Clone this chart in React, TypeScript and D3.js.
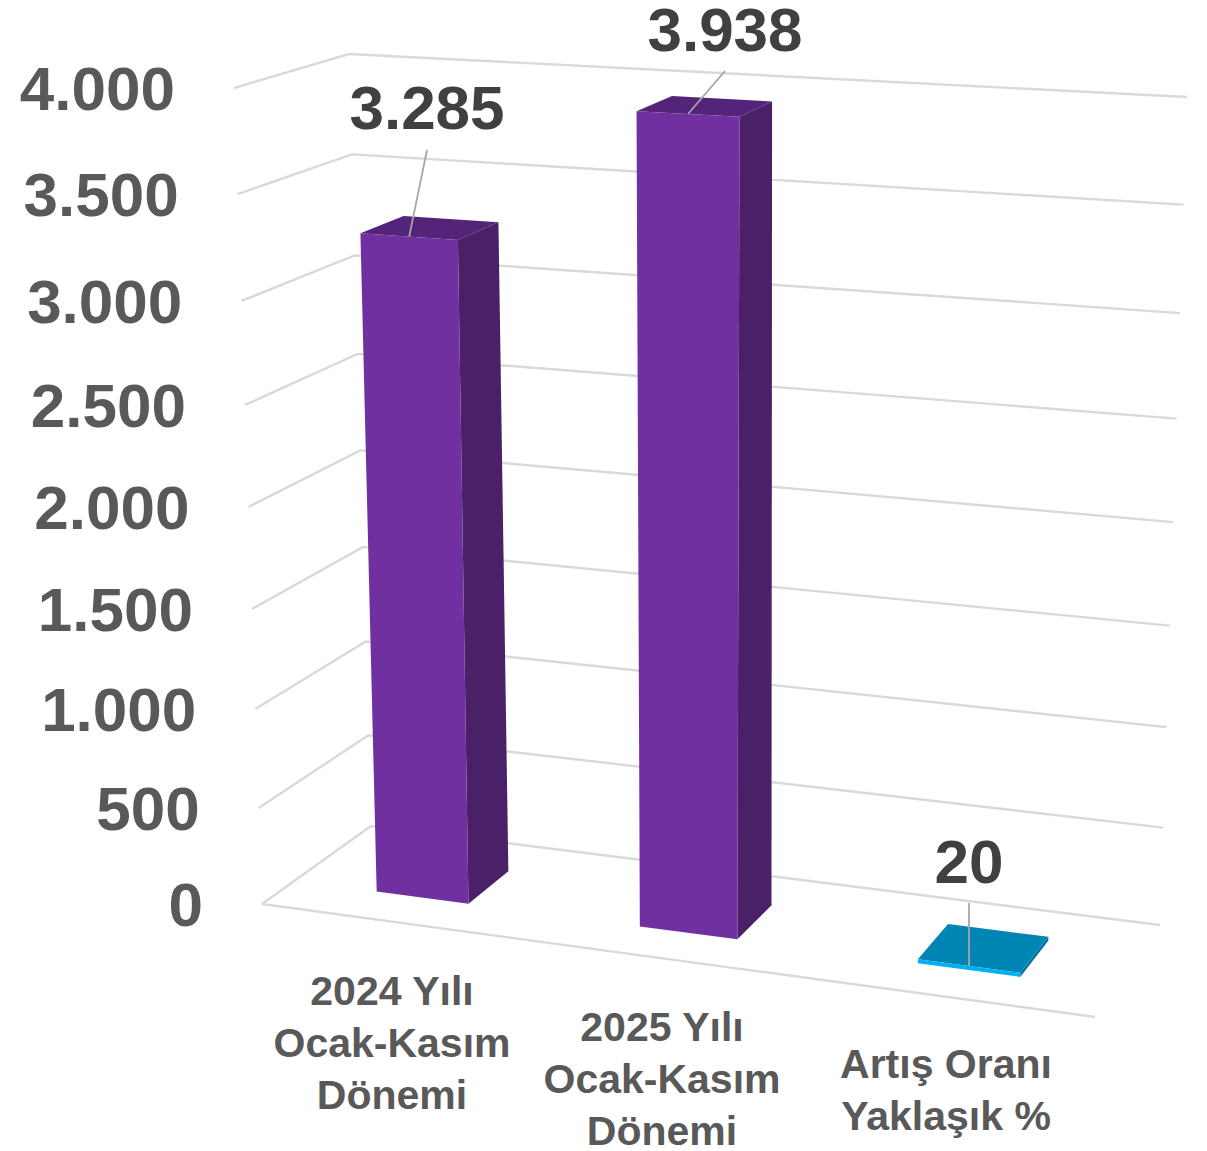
import React from "react";
import * as d3 from "d3";

const categories = [["2024 Yılı", "Ocak-Kasım", "Dönemi"], ["2025 Yılı", "Ocak-Kasım", "Dönemi"], ["Artış Oranı", "Yaklaşık %"]];
const values = [3285, 3938, 20];
const valueLabels = ["3.285", "3.938", "20"];
const ticks = [0, 500, 1000, 1500, 2000, 2500, 3000, 3500, 4000];
const tickLabels = ["0", "500", "1.000", "1.500", "2.000", "2.500", "3.000", "3.500", "4.000"];
// perspective fraction of wall height at each tick
const tickHeights = [0, 0.1176, 0.2390, 0.3615, 0.4865, 0.6115, 0.7390, 0.8700, 1];

type Pt = [number, number];
const W = 1207, H = 1151;
// chart box corners: floor and the 4.000 plane
const floor = { fl: [262, 904] as Pt, fr: [1095, 1017] as Pt, bl: [371, 826] as Pt, br: [1160, 925] as Pt };
const roof = { fl: [234, 88] as Pt, fr: [1135, 138] as Pt, bl: [349, 54] as Pt, br: [1187, 97] as Pt };

const heightScale = d3.scaleLinear().domain(ticks).range(tickHeights);
// foreshortening across the roof plane compared with the floor plane
const roofU = d3.scaleLinear().domain([0, 0.212, 0.54, 1]).range([0, 0.212, 0.534, 1]);
const mix = (a: Pt, b: Pt, t: number): Pt => [a[0] + (b[0] - a[0]) * t, a[1] + (b[1] - a[1]) * t];
const plane = (p: typeof floor, u: number, w: number): Pt => mix(mix(p.fl, p.fr, u), mix(p.bl, p.br, u), w);
const project = (u: number, w: number, v: number): Pt => mix(plane(floor, u, w), plane(roof, roofU(u), w), heightScale(v));

const barSpans: [number, number][] = [[0.1, 0.212], [0.421, 0.54], [0.76, 0.885]];
const barDepth: [number, number] = [0.3, 0.7];
const barColors = [
  { front: "#7030a0", top: "#54247a", side: "#4a2068" },
  { front: "#7030a0", top: "#54247a", side: "#4a2068" },
  { front: "#00b0f0", top: "#0085b5", side: "#006f9b" },
];
const labelCenters: Pt[] = [[427, 107], [725, 28.5], [969, 861]];
const leaderEnds: Pt[] = [[427, 150], [725, 71], [969, 903]];
const categoryCenters: Pt[] = [[392, 1005], [662, 1041], [946, 1078]];

const path = d3.line();
const closed = (pts: Pt[]) => path(pts) + "Z";
const FONT = '"Liberation Sans", Arial, sans-serif';

export default function App() {
  return (
    <svg width={W} height={H} viewBox={`0 0 ${W} ${H}`} style={{ position: "absolute", left: 0, top: 0, background: "#fff" }}>
      <g fill="none" stroke="#d9d9d9" strokeWidth={2.4}>
        {ticks.map((t) => (
          <path key={t} d={path([project(0, 0, t), project(0, 1, t), project(1, 1, t)]) as string} />
        ))}
        <path d={path([project(0, 0, 0), project(1, 0, 0)]) as string} />
      </g>
      {values.map((v, i) => {
        const [u0, u1] = barSpans[i];
        const [w0, w1] = barDepth;
        const c = barColors[i];
        return (
          <g key={i}>
            <path fill={c.side} d={closed([project(u1, w0, 0), project(u1, w1, 0), project(u1, w1, v), project(u1, w0, v)])} />
            <path fill={c.top} d={closed([project(u0, w0, v), project(u1, w0, v), project(u1, w1, v), project(u0, w1, v)])} />
            <path fill={c.front} d={closed([project(u0, w0, 0), project(u1, w0, 0), project(u1, w0, v), project(u0, w0, v)])} />
          </g>
        );
      })}
      <g fill="none" stroke="#a6a6a6" strokeWidth={1.8}>
        {values.map((v, i) => {
          const anchor = project((barSpans[i][0] + barSpans[i][1]) / 2, barDepth[0], v);
          return <path key={i} d={path([leaderEnds[i], anchor]) as string} />;
        })}
      </g>
      <g fontFamily={FONT} fontWeight={700} fontSize={62} fill="#404040" textAnchor="middle">
        {valueLabels.map((l, i) => (
          <text key={i} x={labelCenters[i][0]} y={labelCenters[i][1] + 22}>{l}</text>
        ))}
      </g>
      <g fontFamily={FONT} fontWeight={700} fontSize={62} fill="#595959" textAnchor="end">
        {ticks.map((t, i) => {
          const [x, y] = project(0, 0, t);
          return <text key={t} x={x - 59} y={y + 22}>{tickLabels[i]}</text>;
        })}
      </g>
      <g fontFamily={FONT} fontWeight={700} fontSize={41} fill="#595959" textAnchor="middle">
        {categories.map((lines, i) =>
          lines.map((l, j) => (
            <text key={j + "-" + i} x={categoryCenters[i][0]} y={categoryCenters[i][1] + j * 52}>{l}</text>
          ))
        )}
      </g>
    </svg>
  );
}
